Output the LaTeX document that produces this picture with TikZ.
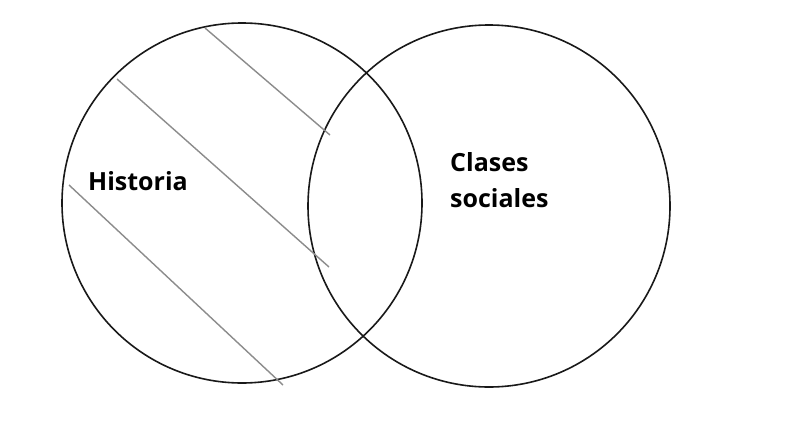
\documentclass[tikz,border=0pt]{standalone}
\usepackage{fontspec}
\setmainfont{Open Sans}
\begin{document}
\begin{tikzpicture}[x=1pt,y=-1pt,
  ring/.style={draw=black!90,line width=1.6pt,circle,minimum size=360pt,inner sep=0pt},
  hatch/.style={draw=black!45,line width=1.4pt},
  lbl/.style={inner sep=0pt,anchor=base west,font=\fontsize{25}{30}\selectfont\bfseries,text=black}]
\useasboundingbox[fill=white] (0,0) rectangle (800,423);
\node[ring] (hist) at (242,203) {};
\node[ring,minimum size=362pt] (clases) at (489,206) {};
\draw[hatch] (205,28) -- (330,135);
\draw[hatch] (117,79) -- (329,267);
\draw[hatch] (69,185) -- (283,385);
\node[lbl] (lh) at (88,190.7) {Historia};
\node[lbl] (lc1) at (450,171.7) {Clases};
\node[lbl] (lc2) at (450,207.7) {sociales};
\end{tikzpicture}
\end{document}
